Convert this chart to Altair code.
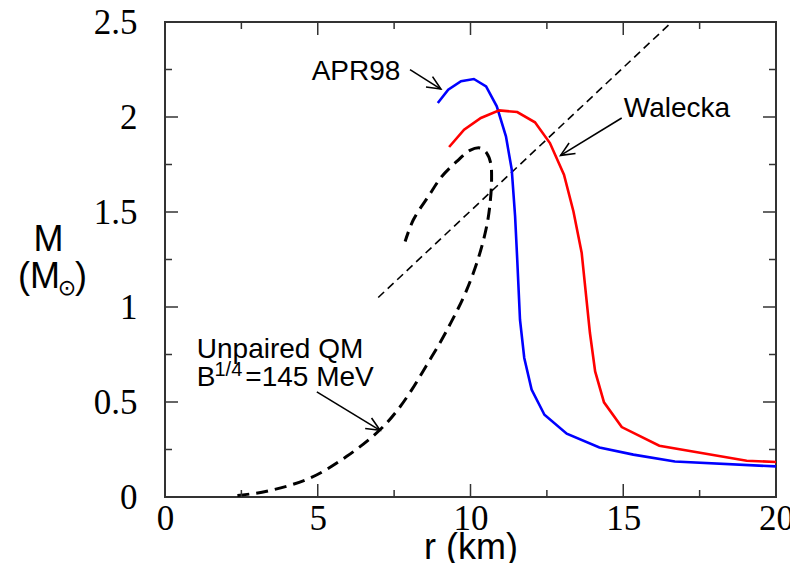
import math
import altair as alt
import pandas as pd

# ---------------- data ----------------
apr_r = [8.93, 9.27, 9.69, 10.11, 10.51, 10.86, 11.16, 11.35, 11.46, 11.53, 11.62, 11.76, 12.0, 12.42, 13.15, 14.22, 15.33, 16.69, 20.0]
apr_m = [2.074, 2.144, 2.188, 2.2, 2.161, 2.056, 1.898, 1.723, 1.477, 1.249, 0.933, 0.732, 0.565, 0.433, 0.333, 0.261, 0.223, 0.187, 0.161]

wal_r = [9.30, 9.79, 10.34, 10.94, 11.53, 12.11, 12.6, 13.06, 13.37, 13.64, 13.91, 14.08, 14.37, 14.95, 16.18, 19.04, 20.0]
wal_m = [1.842, 1.933, 1.995, 2.035, 2.026, 1.972, 1.863, 1.696, 1.503, 1.284, 0.863, 0.661, 0.498, 0.368, 0.27, 0.191, 0.184]

qm_r = [2.37, 3.33, 4.75, 5.95, 7.04, 7.58, 8.08, 8.55, 9.03, 9.35, 9.62, 9.88, 10.15, 10.37, 10.55, 10.65, 10.69, 10.66, 10.53, 10.31, 9.98, 9.55, 9.06, 8.62, 8.13, 7.86]
qm_m = [0.008, 0.03, 0.10, 0.214, 0.354, 0.451, 0.565, 0.69, 0.82, 0.915, 1.0, 1.091, 1.205, 1.319, 1.442, 1.56, 1.67, 1.758, 1.81, 1.837, 1.824, 1.766, 1.687, 1.582, 1.459, 1.345]

lim_r = [6.98, 16.59]
lim_m = [1.05, 2.5]

x_major = [0, 5, 10, 15, 20]
x_minor = [2.5, 7.5, 12.5, 17.5]
y_major = [0, 0.5, 1, 1.5, 2, 2.5]
y_minor = [0.25, 0.75, 1.25, 1.75, 2.25]

ann_text = ["APR98", "Walecka", "Unpaired QM", "B", "=145 MeV"]
ann_r = [4.80, 15.02, 1.04, 1.04, 2.63]
ann_m = [2.196, 1.999, 0.732, 0.586, 0.586]
sup_text = ["1/4"]
sup_r = [1.62]
sup_m = [0.637]

arrow_from_r = [8.02, 14.95, 4.97]
arrow_from_m = [2.249, 1.995, 0.553]
arrow_to_r = [9.03, 12.95, 7.04]
arrow_to_m = [2.147, 1.798, 0.351]

# ---------------- layout ----------------
W, H = 611, 475
SANS = "Liberation Sans"
SERIF = "Liberation Serif"
FRAME = "#333333"

xs = alt.Scale(domain=[0, 20], nice=False, zero=False)
ys = alt.Scale(domain=[0, 2.5], nice=False, zero=False)

xaxis = alt.Axis(values=x_major, format="d", title="r (km)",
                 labelFont=SERIF, labelFontSize=35, labelColor="black", labelPadding=4,
                 labelOverlap=False, labelFlush=False,
                 ticks=False, tickSize=0, domain=False, grid=False,
                 titleFont=SANS, titleFontSize=36, titleFontWeight="normal", titleColor="black",
                 titleX=W / 2, titleY=61, titleAlign="center", titleBaseline="alphabetic")
yaxis = alt.Axis(values=y_major, format="~g", title="M",
                 labelFont=SERIF, labelFontSize=35, labelColor="black", labelPadding=28,
                 labelOverlap=False, labelFlush=False, labelBaseline="middle",
                 ticks=False, tickSize=0, domain=False, grid=False,
                 titleFont=SANS, titleFontSize=36, titleFontWeight="normal", titleColor="black",
                 titleAngle=0, titleX=-117, titleY=228, titleAlign="center", titleBaseline="alphabetic")


def X(field="r"):
    return alt.X(f"{field}:Q", scale=xs, axis=xaxis)


def Y(field="M"):
    return alt.Y(f"{field}:Q", scale=ys, axis=yaxis)


def curve(r, m, color, width, dash=None, interp="linear"):
    df = pd.DataFrame({"r": r, "M": m, "i": list(range(len(r)))})
    kw = dict(color=color, strokeWidth=width, clip=True, interpolate=interp)
    if dash is not None:
        kw["strokeDash"] = dash
    return alt.Chart(df).mark_line(**kw).encode(x=X(), y=Y(), order="i:Q")


layers = []
layers.append(curve(lim_r, lim_m, "black", 1.6, dash=[8, 5]))
layers.append(curve(qm_r, qm_m, "black", 3, dash=[12, 7], interp="catmull-rom"))
layers.append(curve(apr_r, apr_m, "#0000ff", 2.6))
layers.append(curve(wal_r, wal_m, "#ff0000", 2.6))

# ticks (inward, on all four sides)
def xticks(vals, L, top):
    df = pd.DataFrame({"r": vals})
    y0, y1 = (0, L) if top else (H, H - L)
    return alt.Chart(df).mark_rule(color=FRAME, strokeWidth=1.5).encode(
        x=X(), y=alt.value(y0), y2=alt.value(y1))


def yticks(vals, L, right):
    df = pd.DataFrame({"M": vals})
    x0, x1 = (W, W - L) if right else (0, L)
    return alt.Chart(df).mark_rule(color=FRAME, strokeWidth=1.5).encode(
        y=Y(), x=alt.value(x0), x2=alt.value(x1))


for top in (False, True):
    layers.append(xticks(x_major, 13, top))
    layers.append(xticks(x_minor, 7, top))
for right in (False, True):
    layers.append(yticks(y_major, 13, right))
    layers.append(yticks(y_minor, 7, right))

# arrows
sx, sy = W / 20.0, H / 2.5
shaft_rows = []
for k in range(len(arrow_from_r)):
    shaft_rows.append({"id": k, "i": 0, "r": arrow_from_r[k], "M": arrow_from_m[k]})
    shaft_rows.append({"id": k, "i": 1, "r": arrow_to_r[k], "M": arrow_to_m[k]})
shafts = pd.DataFrame(shaft_rows)
layers.append(alt.Chart(shafts).mark_line(color="black", strokeWidth=1.6).encode(
    x=X(), y=Y(), detail="id:N", order="i:Q"))

angs = []
for k in range(len(arrow_from_r)):
    dx = (arrow_to_r[k] - arrow_from_r[k]) * sx
    dy = -(arrow_to_m[k] - arrow_from_m[k]) * sy
    angs.append(math.degrees(math.atan2(dy, dx)) % 360)
heads = pd.DataFrame({"r": arrow_to_r, "M": arrow_to_m, "ang": angs})
layers.append(alt.Chart(heads).mark_point(
    shape="M -1 -0.45 L 0 0 L -1 0.45", filled=False, size=750,
    stroke="black", strokeWidth=1.6, opacity=1).encode(
    x=X(), y=Y(), angle=alt.Angle("ang:Q", scale=None)))

# annotation texts
ann = pd.DataFrame({"r": ann_r, "M": ann_m, "t": ann_text})
layers.append(alt.Chart(ann).mark_text(
    font=SANS, fontSize=28, align="left", baseline="alphabetic", color="black").encode(
    x=X(), y=Y(), text="t:N"))
sup = pd.DataFrame({"r": sup_r, "M": sup_m, "t": sup_text})
layers.append(alt.Chart(sup).mark_text(
    font=SANS, fontSize=20, align="left", baseline="alphabetic", color="black").encode(
    x=X(), y=Y(), text="t:N"))

# y-axis title second line: (M_sun)
one = pd.DataFrame({"k": [0]})
layers.append(alt.Chart(one).mark_text(
    font=SANS, fontSize=36, align="right", baseline="alphabetic", color="black", text="(M").encode(
    x=alt.value(-105), y=alt.value(266)))
layers.append(alt.Chart(one).mark_text(
    font="DejaVu Sans", fontSize=22, align="center", baseline="middle", color="black", text="\u2299").encode(
    x=alt.value(-98), y=alt.value(266)))
layers.append(alt.Chart(one).mark_text(
    font=SANS, fontSize=36, align="left", baseline="alphabetic", color="black", text=")").encode(
    x=alt.value(-90), y=alt.value(266)))

chart = alt.layer(*layers).properties(
    width=W, height=H,
    padding={"left": 157, "top": 14, "right": 14, "bottom": 66},
    autosize=alt.AutoSizeParams(type="none"),
    background="white",
).configure_view(stroke=FRAME, strokeWidth=2)

chart.save("out.html", embed_options={"renderer": "svg", "actions": False})
